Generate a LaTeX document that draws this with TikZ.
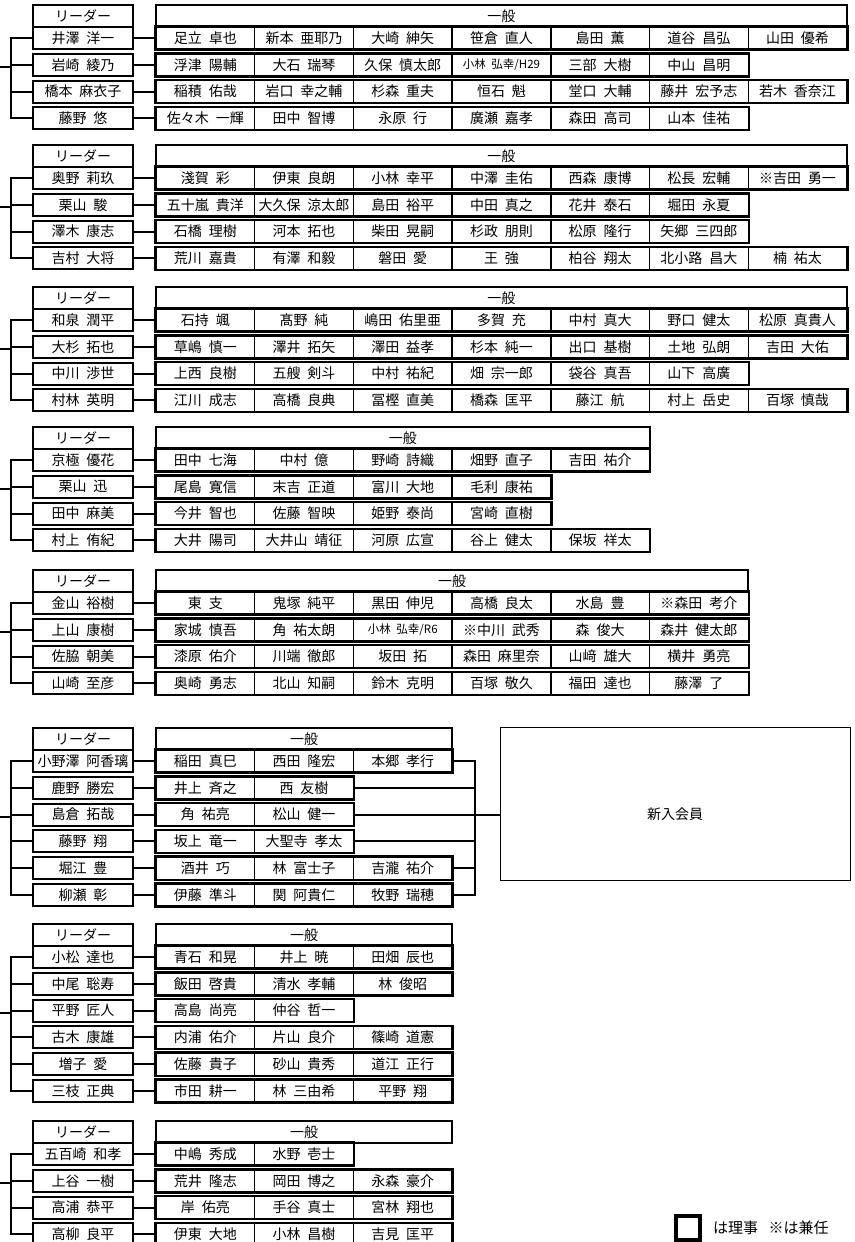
\documentclass[tikz,border=0pt]{standalone}
\usepackage{fontspec}
\setmainfont{Noto Sans CJK JP}[WordSpace=2.2]
\usetikzlibrary{calc}

\newcommand{\colw}{98.7}
\newcommand{\pitch}{26.8}
\newcommand{\smallname}[1]{{\fontsize{11.5}{12}\selectfont #1}}

% header of one team: id, top, number of columns
\newcommand{\teamhead}[3]{%
  \node[headbox] (#1L) at (83,#2+11) {リーダー};
  \node[headbox, minimum width={#3*\colw*1pt}] (#1G) at (156+#3*\colw/2,#2+11) {一般};
}
% one row: id, top of team, row number, leader, members
\newcommand{\teamrow}[5]{%
  \node[leadbox] (#1) at (83,#2+33+#3*\pitch-\pitch) {#4};
  \foreach \m [count=\i] in {#5} {%
    \node[membox] (#1-\i) at (156+\i*\colw-\colw/2,#2+33+#3*\pitch-\pitch) {\m};
    \xdef\nlast{\i}}
  \draw[rowline] (#1-1.north west) rectangle (#1-\nlast.south east);
  \draw[link] (#1.east) -- (#1-1.west);
}
% trunk on the left: first row, last row, middle rows, height of the stub
\newcommand{\teamtrunk}[4]{%
  \draw[link] (#1.west) -- ++(-21,0) |- (#2.west);
  \foreach \r in {#3} \draw[link] (\r.west) -- ++(-21,0);
  \coordinate (#1in) at (0,#4);
  \draw[link] (#1in) -- ++(12,0);
}

\begin{document}
\begin{tikzpicture}[x=1pt, y=-1pt, font=\fontsize{14}{16}\selectfont,
    headbox/.style={draw, line width=2pt, minimum width=100pt, minimum height=22pt, inner sep=0pt},
    leadbox/.style={headbox},
    membox/.style={draw, line width=1.4pt, minimum width=98.7pt, minimum height=22pt, inner sep=0pt},
    rowline/.style={line width=2.2pt},
    link/.style={line width=2pt},
    newbox/.style={draw, line width=1pt, minimum width=350pt, minimum height=153pt},
    legbox/.style={draw, line width=3.2pt, minimum size=24pt}]
\fill[white] (0,0) rectangle (854,1242);
\useasboundingbox (0,0) rectangle (854,1242);

\teamhead{g1}{5}{7}
\teamrow{g1a}{5}{1}{井澤 洋一}{足立 卓也, 新本 亜耶乃, 大崎 紳矢, 笹倉 直人, 島田 薫, 道谷 昌弘, 山田 優希}
\teamrow{g1b}{5}{2}{岩崎 綾乃}{浮津 陽輔, 大石 瑞琴, 久保 慎太郎, \smallname{小林 弘幸/H29}, 三部 大樹, 中山 昌明}
\teamrow{g1c}{5}{3}{橋本 麻衣子}{稲積 佑哉, 岩口 幸之輔, 杉森 重夫, 恒石 魁, 堂口 大輔, 藤井 宏予志, 若木 香奈江}
\teamrow{g1d}{5}{4}{藤野 悠}{佐々木 一輝, 田中 智博, 永原 行, 廣瀬 嘉孝, 森田 高司, 山本 佳祐}
\teamtrunk{g1a}{g1d}{g1b,g1c}{67.2}

\teamhead{g2}{145}{7}
\teamrow{g2a}{145}{1}{奥野 莉玖}{淺賀 彩, 伊東 良朗, 小林 幸平, 中澤 圭佑, 西森 康博, 松長 宏輔, ※吉田 勇一}
\teamrow{g2b}{145}{2}{栗山 駿}{五十嵐 貴洋, 大久保 涼太郎, 島田 裕平, 中田 真之, 花井 泰石, 堀田 永夏}
\teamrow{g2c}{145}{3}{澤木 康志}{石橋 理樹, 河本 拓也, 柴田 晃嗣, 杉政 朋則, 松原 隆行, 矢郷 三四郎}
\teamrow{g2d}{145}{4}{吉村 大将}{荒川 嘉貴, 有澤 和毅, 磐田 愛, 王 強, 柏谷 翔太, 北小路 昌大, 楠 祐太}
\teamtrunk{g2a}{g2d}{g2b,g2c}{207.2}

\teamhead{g3}{287}{7}
\teamrow{g3a}{287}{1}{和泉 潤平}{石持 颯, 髙野 純, 嶋田 佑里亜, 多賀 充, 中村 真大, 野口 健太, 松原 真貴人}
\teamrow{g3b}{287}{2}{大杉 拓也}{草嶋 慎一, 澤井 拓矢, 澤田 益孝, 杉本 純一, 出口 基樹, 土地 弘朗, 吉田 大佑}
\teamrow{g3c}{287}{3}{中川 渉世}{上西 良樹, 五艘 剣斗, 中村 祐紀, 畑 宗一郎, 袋谷 真吾, 山下 高廣}
\teamrow{g3d}{287}{4}{村林 英明}{江川 成志, 高橋 良典, 冨樫 直美, 橋森 匡平, 藤江 航, 村上 岳史, 百塚 慎哉}
\teamtrunk{g3a}{g3d}{g3b,g3c}{349.2}

\teamhead{g4}{427}{5}
\teamrow{g4a}{427}{1}{京極 優花}{田中 七海, 中村 億, 野崎 詩織, 畑野 直子, 吉田 祐介}
\teamrow{g4b}{427}{2}{栗山 迅}{尾島 寛信, 末吉 正道, 富川 大地, 毛利 康祐}
\teamrow{g4c}{427}{3}{田中 麻美}{今井 智也, 佐藤 智映, 姫野 泰尚, 宮崎 直樹}
\teamrow{g4d}{427}{4}{村上 侑紀}{大井 陽司, 大井山 靖征, 河原 広宣, 谷上 健太, 保坂 祥太}
\teamtrunk{g4a}{g4d}{g4b,g4c}{489.2}

\teamhead{g5}{570}{6}
\teamrow{g5a}{570}{1}{金山 裕樹}{東 支, 鬼塚 純平, 黒田 伸児, 高橋 良太, 水島 豊, ※森田 考介}
\teamrow{g5b}{570}{2}{上山 康樹}{家城 慎吾, 角 祐太朗, \smallname{小林 弘幸/R6}, ※中川 武秀, 森 俊大, 森井 健太郎}
\teamrow{g5c}{570}{3}{佐脇 朝美}{漆原 佑介, 川端 徹郎, 坂田 拓, 森田 麻里奈, 山﨑 雄大, 横井 勇亮}
\teamrow{g5d}{570}{4}{山崎 至彦}{奥崎 勇志, 北山 知嗣, 鈴木 克明, 百塚 敬久, 福田 達也, 藤澤 了}
\teamtrunk{g5a}{g5d}{g5b,g5c}{632.2}

\teamhead{g6}{728}{3}
\teamrow{g6a}{728}{1}{小野澤 阿香璃}{稲田 真巳, 西田 隆宏, 本郷 孝行}
\teamrow{g6b}{728}{2}{鹿野 勝宏}{井上 斉之, 西 友樹}
\teamrow{g6c}{728}{3}{島倉 拓哉}{角 祐亮, 松山 健一}
\teamrow{g6d}{728}{4}{藤野 翔}{坂上 竜一, 大聖寺 孝太}
\teamrow{g6e}{728}{5}{堀江 豊}{酒井 巧, 林 富士子, 吉瀧 祐介}
\teamrow{g6f}{728}{6}{柳瀬 彰}{伊藤 準斗, 関 阿貴仁, 牧野 瑞穂}
\teamtrunk{g6a}{g6f}{g6b,g6c,g6d,g6e}{817}

\node[newbox] (new) at (675,803.5) {};
\node (newtext) at (new.center |- g6c.center) {新入会員};
\coordinate (bus) at ($(g6a-3.east)+(22,0)$);
\draw[link] (g6a-3.east) -- (bus) |- (g6f-3.east);
\draw[link] (g6e-3.east) -- (g6e-3.east -| bus);
\draw[link] (g6b-2.east) -- (g6b-2.east -| bus);
\draw[link] (g6d-2.east) -- (g6d-2.east -| bus);
\draw[link] (g6c-2.east) -- (g6c-2.east -| new.west);

\teamhead{g7}{924}{3}
\teamrow{g7a}{924}{1}{小松 達也}{青石 和晃, 井上 暁, 田畑 辰也}
\teamrow{g7b}{924}{2}{中尾 聡寿}{飯田 啓貴, 清水 孝輔, 林 俊昭}
\teamrow{g7c}{924}{3}{平野 匠人}{高島 尚亮, 仲谷 哲一}
\teamrow{g7d}{924}{4}{古木 康雄}{内浦 佑介, 片山 良介, 篠崎 道憲}
\teamrow{g7e}{924}{5}{増子 愛}{佐藤 貴子, 砂山 貴秀, 道江 正行}
\teamrow{g7f}{924}{6}{三枝 正典}{市田 耕一, 林 三由希, 平野 翔}
\teamtrunk{g7a}{g7f}{g7b,g7c,g7d,g7e}{1013}

\teamhead{g8}{1121}{3}
\teamrow{g8a}{1121}{1}{五百崎 和孝}{中嶋 秀成, 水野 壱士}
\teamrow{g8b}{1121}{2}{上谷 一樹}{荒井 隆志, 岡田 博之, 永森 豪介}
\teamrow{g8c}{1121}{3}{高浦 恭平}{岸 佑亮, 手谷 真士, 宮林 翔也}
\teamrow{g8d}{1121}{4}{高柳 良平}{伊東 大地, 小林 昌樹, 吉見 匡平}
\teamtrunk{g8a}{g8d}{g8b,g8c}{1183.2}

\node[legbox] (leg) at (688,1228) {};
\node[anchor=west, font=\fontsize{15}{17}\selectfont] (legtext) at ($(leg.east)+(8,0)$) {は理事\hspace{0.7em}※は兼任};
\end{tikzpicture}
\end{document}
